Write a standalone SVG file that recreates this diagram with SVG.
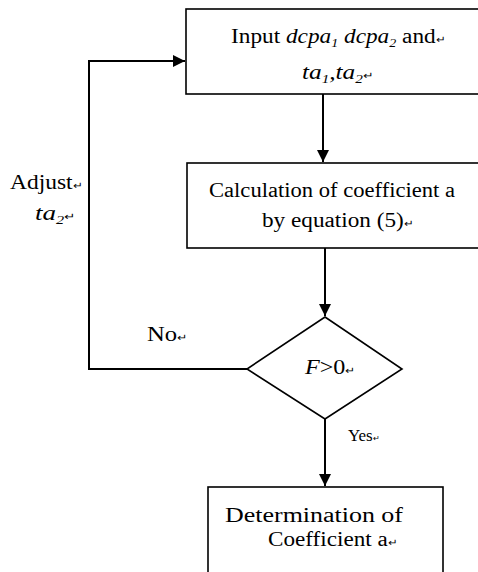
<svg xmlns="http://www.w3.org/2000/svg" width="478" height="572" viewBox="0 0 478 572">
<defs>
<style>
.box{fill:#fff;stroke:#000;stroke-width:1.6}
.ln{fill:none;stroke:#000;stroke-width:2}
text{font-family:"Liberation Serif","Times New Roman",serif;font-size:20px;fill:#000}
.pm{font-size:10px}
.it{font-style:italic}
.sb{font-size:12px;font-style:italic}
</style>
<marker id="ah" viewBox="0 0 10 10" refX="10" refY="5" markerWidth="6" markerHeight="6" orient="auto" markerUnits="strokeWidth">
<path d="M0,0 L10,5 L0,10 z" fill="#000"/>
</marker>
</defs>
<rect width="478" height="572" fill="#fff"/>
<g id="connectors">
<line class="ln" x1="323" y1="94" x2="323" y2="162" marker-end="url(#ah)"/>
<line class="ln" x1="325" y1="248" x2="325" y2="316" marker-end="url(#ah)"/>
<line class="ln" x1="325" y1="419" x2="325" y2="486" marker-end="url(#ah)"/>
<polyline class="ln" points="247,369 89,369 89,61 185,61" marker-end="url(#ah)"/>
<text x="147" y="341" textLength="40" lengthAdjust="spacingAndGlyphs">No<tspan class="pm">↵</tspan></text>
<text x="348" y="441" style="font-size:17px">Yes<tspan style="font-size:8px">↵</tspan></text>
<text x="10" y="189" textLength="72" lengthAdjust="spacingAndGlyphs">Adjust<tspan class="pm">↵</tspan></text>
<text x="35" y="220" textLength="40" lengthAdjust="spacingAndGlyphs"><tspan class="it">ta</tspan><tspan class="sb" dy="4">2</tspan><tspan class="pm" dy="-4">↵</tspan></text>
</g>
<g id="input">
<rect class="box" x="186" y="9" width="300" height="85"/>
<text x="231" y="43" textLength="214" lengthAdjust="spacingAndGlyphs">Input <tspan class="it">dcpa</tspan><tspan class="sb" dy="4">1</tspan><tspan class="it" dy="-4"> dcpa</tspan><tspan class="sb" dy="4">2</tspan><tspan dy="-4"> and</tspan><tspan class="pm">↵</tspan></text>
<text x="302" y="79" textLength="71" lengthAdjust="spacingAndGlyphs"><tspan class="it">ta</tspan><tspan class="sb" dy="4">1</tspan><tspan class="it" dy="-4">,ta</tspan><tspan class="sb" dy="4">2</tspan><tspan class="pm" dy="-4">↵</tspan></text>
</g>
<g id="calc">
<rect class="box" x="187" y="163" width="300" height="85"/>
<text x="209" y="197" textLength="246" lengthAdjust="spacingAndGlyphs">Calculation of coefficient a</text>
<text x="262" y="227" textLength="151" lengthAdjust="spacingAndGlyphs">by equation (5)<tspan class="pm">↵</tspan></text>
</g>
<g id="decision">
<polygon class="box" points="325,317 402,369 325,419 247,369"/>
<text x="305" y="374" textLength="50" lengthAdjust="spacingAndGlyphs"><tspan class="it">F</tspan>&gt;0<tspan class="pm">↵</tspan></text>
</g>
<g id="result">
<rect class="box" x="208" y="487" width="235" height="95"/>
<text x="225" y="522" textLength="178" lengthAdjust="spacingAndGlyphs">Determination of</text>
<text x="268" y="546" textLength="129" lengthAdjust="spacingAndGlyphs">Coefficient a<tspan class="pm">↵</tspan></text>
</g>
</svg>
